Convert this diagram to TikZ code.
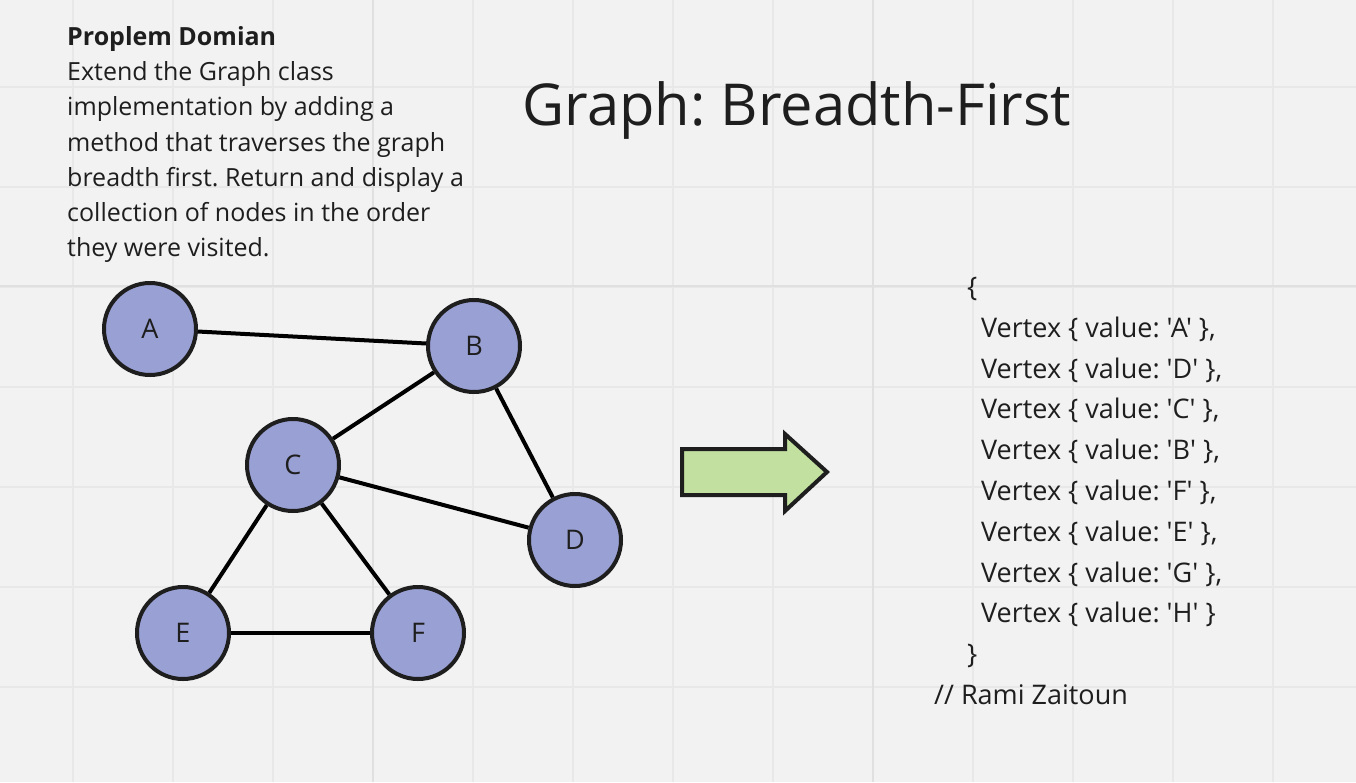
\documentclass[tikz,border=0pt]{standalone}
\usepackage{fontspec}
\setmainfont{Open Sans}
\newfontfamily\codefont{Open Sans}[Ligatures=TeXOff]
\definecolor{board}{HTML}{F2F2F2}
\definecolor{gridline}{HTML}{E8E8E8}
\definecolor{gridmajor}{HTML}{E0E0E0}
\definecolor{ink}{HTML}{1E1E1E}
\definecolor{vfill}{HTML}{99A0D3}
\definecolor{arrowfill}{HTML}{C2E0A0}
\begin{document}
\frenchspacing
\begin{tikzpicture}[x=1pt, y=-1pt, font=\fontsize{25}{35.3}\selectfont, text=ink,
      vertex/.style={circle, draw=ink, line width=4pt, fill=vfill, minimum size=92pt, inner sep=0pt,
        font=\fontsize{27}{30}\selectfont},
      edge/.style={draw=black, line width=4pt},
      note/.style={align=left, anchor=north west, inner sep=0pt}]
    % board with grid
    \fill[board] (0,0) rectangle (1356,782);
    \useasboundingbox (0,0) rectangle (1356,782);
    \foreach \gx in {73,173,...,1373} \draw[gridline, line width=1.2pt] (\gx,0) -- (\gx,782);
    \foreach \gy in {87,187,...,787} \draw[gridline, line width=1.2pt] (0,\gy) -- (1356,\gy);
    \draw[gridmajor, line width=1.4pt] (373,0) -- (373,782) (873,0) -- (873,782) (0,286) -- (1356,286);
    % problem statement
    \node[note] (domain) at (67,26) {\textbf{Proplem Domian}\\
      Extend the Graph class\\
      implementation by adding a\\
      method that traverses the graph\\
      breadth first. Return and display a\\
      collection of nodes in the order\\
      they were visited.};
    \node[font=\fontsize{57.8}{70}\selectfont] (title) at (797,110) {Graph: Breadth-First};
    % graph
    \node[vertex] (A) at (150,329) {A};
    \node[vertex] (B) at (474,346) {B};
    \node[vertex] (C) at (293,465) {C};
    \node[vertex] (D) at (575,540) {D};
    \node[vertex] (E) at (183,633) {E};
    \node[vertex] (F) at (418,633) {F};
    \draw[edge] (A) -- (B);
    \draw[edge] (B) -- (C);
    \draw[edge] (B) -- (D);
    \draw[edge] (C) -- (D);
    \draw[edge] (C) -- (E);
    \draw[edge] (C) -- (F);
    \draw[edge] (E) -- (F);
    % result arrow
    \draw[draw=ink, fill=arrowfill, line width=4pt, line join=miter]
      (682,449) -- (785,449) -- (785,434) -- (827,472) -- (785,511) -- (785,495) -- (682,495) -- cycle;
    % visited order
    \node[note, font=\codefont\fontsize{27}{40.8}\selectfont] (order) at (934,277) {%
      \hspace*{33pt}\{\\
      \hspace*{47pt}Vertex \{ value: 'A' \},\\
      \hspace*{47pt}Vertex \{ value: 'D' \},\\
      \hspace*{47pt}Vertex \{ value: 'C' \},\\
      \hspace*{47pt}Vertex \{ value: 'B' \},\\
      \hspace*{47pt}Vertex \{ value: 'F' \},\\
      \hspace*{47pt}Vertex \{ value: 'E' \},\\
      \hspace*{47pt}Vertex \{ value: 'G' \},\\
      \hspace*{47pt}Vertex \{ value: 'H' \}\\
      \hspace*{33pt}\}\\
      // Rami Zaitoun};
  \end{tikzpicture}
\end{document}
